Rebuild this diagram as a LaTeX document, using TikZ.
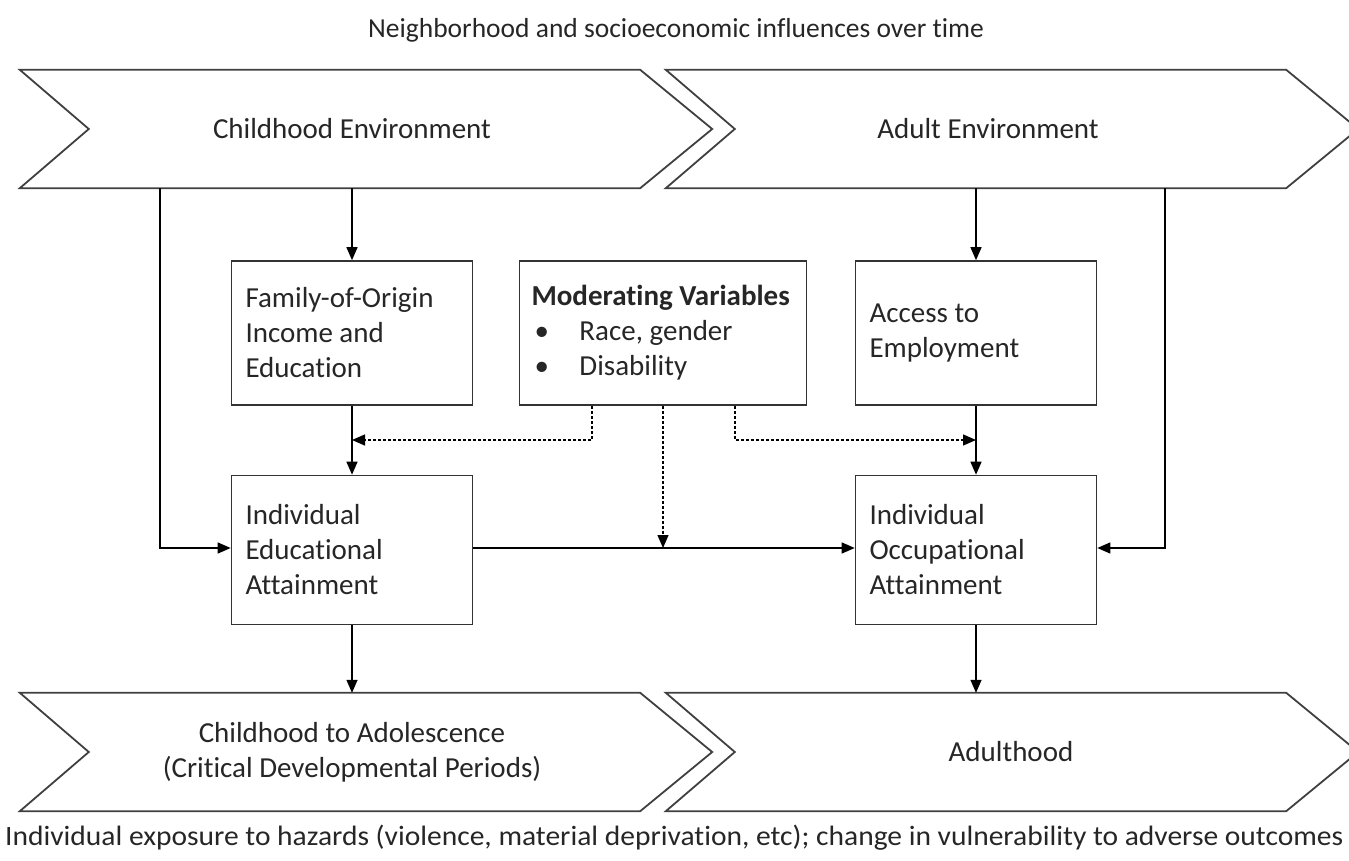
\documentclass[tikz,border=0pt]{standalone}
\usepackage{fontspec}
\setmainfont{Carlito}[Ligatures=NoCommon]
\usetikzlibrary{arrows.meta,positioning,calc}

\begin{document}
\begin{tikzpicture}[
  x=1pt, y=-1pt,
  >={Triangle[length=13pt,width=11pt]},
  font=\fontsize{29}{35}\selectfont,
  text=black!85,
  chev/.style={minimum width=620pt, minimum height=118pt, inner sep=0pt},
  chevline/.style={draw=black!75, line width=1.8pt, line join=miter},
  box/.style={draw=black!80, line width=1.6pt, minimum width=241pt, minimum height=144pt,
    text width=213pt, inner sep=14pt, align=flush left},
  line/.style={->, line width=1.4pt},
  modline/.style={->, line width=1.4pt, dash pattern=on 3pt off 2pt}
]
\useasboundingbox (0,0) rectangle (1349,861);

% Chevrons (time periods)
\node[chev] (child)     at (330,129) {};
\node[chev] (adult)     at (976,129) {};
\node[chev] (adol)      at (330,752) {};
\node[chev] (adulthood) at (976,752) {};
\foreach \n in {child,adult,adol,adulthood}
  \draw[chevline] (\n.north west) -- (\n.north east) -- ($(\n.east)+(72,0)$)
    -- (\n.south east) -- (\n.south west) -- ($(\n.west)+(69,0)$) -- cycle;

\node at (352,129) {Childhood Environment};
\node at (988,129) {Adult Environment};
\node[align=center] at (352,752) {Childhood to Adolescence\\(Critical Developmental Periods)};
\node at (1011,752) {Adulthood};

% Boxes
\node[box] (family) at (352,333) {Family-of-Origin\\Income and\\Education};
\node[box, minimum width=287pt, text width=263pt, inner sep=12pt] (mod) at (663,333)
  {\textbf{Moderating Variables}\\
   \hspace*{3pt}\makebox[45pt][l]{\textbullet}Race, gender\\
   \hspace*{3pt}\makebox[45pt][l]{\textbullet}Disability};
\node[box] (access) at (976,333) {Access to\\Employment};
\node[box, minimum height=149pt] (edu) at (352,550) {Individual\\Educational\\Attainment};
\node[box, minimum height=149pt] (occ) at (976,550) {Individual\\Occupational\\Attainment};

% Top and bottom texts
\node (top) at (676,30) {\fontsize{27.5}{32}\selectfont Neighborhood and socioeconomic influences over time};
\node[anchor=west, inner sep=0pt] (bottom) at (5,838)
  {\resizebox{1338pt}{\height}{\fontsize{28}{32}\selectfont Individual exposure to hazards (violence, material deprivation, etc); change in vulnerability to adverse outcomes}};

% Vertical arrows
\draw[line] (child.south -| family) -- (family);
\draw[line] (family) -- (edu);
\draw[line] (edu) -- (adol.north -| edu);
\draw[line] (adult.south -| access) -- (access);
\draw[line] (access) -- (occ);
\draw[line] (occ) -- (adulthood.north -| occ);

% Side paths
\coordinate (lside) at (160,548);
\coordinate (rside) at (1165,548);
\draw[line] (child.south -| lside) -- (lside) -- (edu.west |- lside);
\draw[line] (adult.south -| rside) -- (rside) -- (occ.east |- rside);
\draw[line] (edu.east |- lside) -- (occ.west |- lside);

% Moderating (dotted)
\coordinate (mleft) at (592,440);
\coordinate (mright) at (735,440);
\draw[modline] (mod.south -| mleft) -- (mleft) -- (mleft -| family);
\draw[modline] (mod.south -| mright) -- (mright) -- (mright -| access);
\draw[modline] (mod.south) -- (mod.south |- lside);

\end{tikzpicture}
\end{document}
